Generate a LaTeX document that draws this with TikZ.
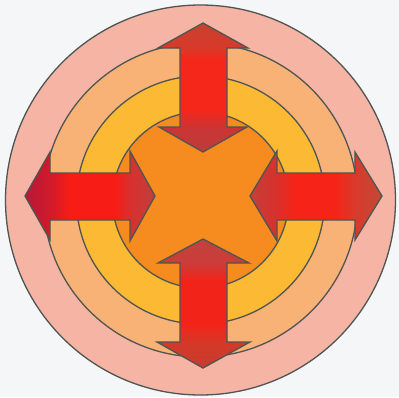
\documentclass[tikz,border=0pt]{standalone}
\definecolor{bgc}{HTML}{F5F6F8}
\definecolor{ringA}{HTML}{F5B4A4}
\definecolor{ringB}{HTML}{F8B275}
\definecolor{ringC}{HTML}{FBB934}
\definecolor{coreC}{HTML}{F68B1F}
\definecolor{edgeC}{HTML}{4F5552}
% left arrow colours
\definecolor{aLa}{HTML}{B8183A}
\definecolor{aLb}{HTML}{D01A2A}
\definecolor{aLc}{HTML}{F81C16}
\definecolor{aLd}{HTML}{D8302E}
\definecolor{aLe}{HTML}{C0403C}
% right arrow colours
\definecolor{aRa}{HTML}{C4403A}
\definecolor{aRb}{HTML}{D8302C}
\definecolor{aRc}{HTML}{F62418}
\definecolor{aRd}{HTML}{D83A2C}
\definecolor{aRe}{HTML}{C24A34}
% top arrow colours
\definecolor{aTa}{HTML}{BC3C3C}
\definecolor{aTb}{HTML}{CC3434}
\definecolor{aTc}{HTML}{F5261A}
\definecolor{aTd}{HTML}{D83A2A}
\definecolor{aTe}{HTML}{C8402E}
% bottom arrow colours
\definecolor{aBa}{HTML}{C63C30}
\definecolor{aBb}{HTML}{D63828}
\definecolor{aBc}{HTML}{F2241A}
\definecolor{aBd}{HTML}{CC3C38}
\definecolor{aBe}{HTML}{C0443E}
\pgfdeclarehorizontalshading{shL}{100bp}{color(0bp)=(aLa); color(25bp)=(aLa); color(34.6bp)=(aLb); color(42.3bp)=(aLc); color(59.6bp)=(aLc); color(65.4bp)=(aLd); color(75bp)=(aLe); color(100bp)=(aLe)}
\pgfdeclarehorizontalshading{shR}{100bp}{color(0bp)=(aRa); color(25bp)=(aRa); color(35.2bp)=(aRb); color(42bp)=(aRc); color(57.2bp)=(aRc); color(64.8bp)=(aRd); color(75bp)=(aRe); color(100bp)=(aRe)}
\pgfdeclareverticalshading{shT}{100bp}{color(0bp)=(aTa); color(25bp)=(aTa); color(34.7bp)=(aTb); color(41.3bp)=(aTc); color(60.7bp)=(aTc); color(65.3bp)=(aTd); color(75bp)=(aTe); color(100bp)=(aTe)}
\pgfdeclareverticalshading{shB}{100bp}{color(0bp)=(aBa); color(25bp)=(aBa); color(35bp)=(aBb); color(41.7bp)=(aBc); color(59bp)=(aBc); color(65.7bp)=(aBd); color(75bp)=(aBe); color(100bp)=(aBe)}
\begin{document}
\begin{tikzpicture}[x=1pt,y=-1pt,
  ring/.style={draw=edgeC,line width=1.3pt},
  arrowshape/.style={draw=edgeC,line width=1.3pt,line join=miter}]
\fill[bgc] (0,0) rectangle (399,397);
\useasboundingbox (0,0) rectangle (399,397);
\coordinate (c) at (200.5,200);
\filldraw[ring,fill=ringA] (c) circle[radius=195];
\filldraw[ring,fill=ringB] (c) circle[radius=157];
\filldraw[ring,fill=ringC] (c) circle[radius=124];
\filldraw[ring,fill=coreC] (c) circle[radius=88];
% top arrow
\draw[arrowshape,shading=shT] (203,23) -- (248,48) -- (227,48) -- (227,127) -- (247,127) -- (203,152) -- (159,127) -- (180,127) -- (180,48) -- (158,48) -- cycle;
% bottom arrow
\draw[arrowshape,shading=shB] (203,239) -- (249,263) -- (227,263) -- (227,342) -- (250,342) -- (203,368) -- (157,342) -- (180,342) -- (180,263) -- (158,263) -- cycle;
% left arrow
\draw[arrowshape,shading=shL] (25,196) -- (50,152) -- (50,173) -- (130,173) -- (130,151) -- (155,196) -- (130,241) -- (130,220) -- (50,220) -- (50,240) -- cycle;
% right arrow
\draw[arrowshape,shading=shR] (382,196) -- (355,152) -- (355,173) -- (277,173) -- (277,151) -- (250,196) -- (277,241) -- (277,220) -- (355,220) -- (355,240) -- cycle;
\end{tikzpicture}
\end{document}
